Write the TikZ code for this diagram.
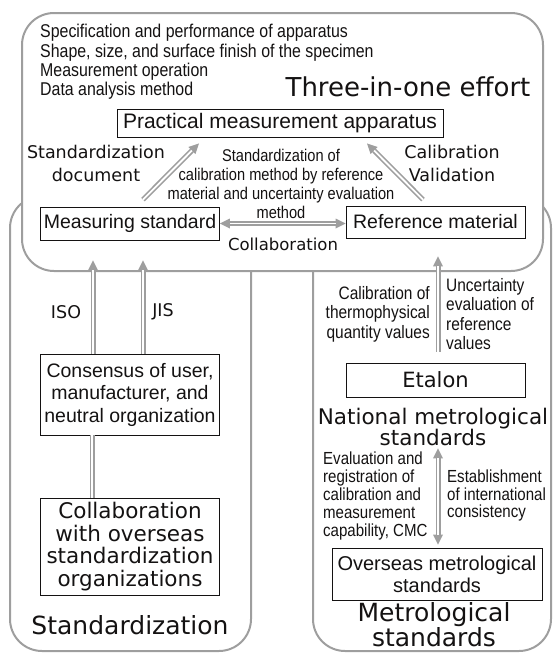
\documentclass[tikz,border=0pt]{standalone}
\usepackage{fontspec}
\setmainfont{Liberation Sans}
\newfontfamily\narrowfont[FakeStretch=0.86]{Liberation Sans}
\newfontfamily\widefont{DejaVu Sans}
\usetikzlibrary{arrows.meta,calc}
\definecolor{lg}{RGB}{158,158,158}
\definecolor{ink}{RGB}{20,18,18}
\tikzset{
  gtip/.tip={Triangle[width=10pt,length=10pt,line width=0pt]},
  frame/.style={draw=lg, line width=2pt, rounded corners=32pt},
  box/.style={draw=ink, line width=0.9pt, inner sep=0pt, text=ink, align=center,
    font=\fontsize{19.5}{23}\selectfont},
  note/.style={inner sep=0pt, text=ink, font=\narrowfont\fontsize{18}{19.5}\selectfont},
  lbl/.style={inner sep=0pt, text=ink, align=center, font=\widefont\fontsize{17.5}{23}\selectfont},
  big/.style={inner sep=0pt, text=ink, align=center, font=\widefont\fontsize{25}{24}\selectfont},
  dblA/.style={draw=lg, line width=5pt, -{gtip},
    postaction={draw=white, line width=1.8pt, -, shorten >=10pt}},
  dblB/.style={draw=lg, line width=5pt, {gtip}-{gtip},
    postaction={draw=white, line width=1.8pt, -, shorten >=10pt, shorten <=10pt}},
  dblL/.style={draw=lg, line width=5pt,
    postaction={draw=white, line width=1.8pt}},
}
\begin{document}
\begin{tikzpicture}[x=1pt,y=-1pt]
\useasboundingbox (0,0) rectangle (553,654);
% frames
\draw[frame] (10,196) rectangle (251,651);
\draw[frame] (313,196) rectangle (551,651);
\draw[frame, fill=white] (22,13) rectangle (543,271);

% boxes
\node[box, minimum width=326pt, minimum height=28pt, font=\fontsize{21}{24}\selectfont] (pma) at (280,123) {Practical measurement apparatus};
\node[box, minimum width=179pt, minimum height=33pt] (ms) at (130,223.5) {Measuring standard};
\node[box, minimum width=179pt, minimum height=32pt] (rm) at (435.5,222) {Reference material};
\node[box, minimum width=179pt, minimum height=81pt, font=\fontsize{19.5}{22.5}\selectfont] (cons) at (130,394.5) {Consensus of user,\\manufacturer, and\\neutral organization};
\node[box, minimum width=179pt, minimum height=97pt, font=\widefont\fontsize{21.5}{22.7}\selectfont] (collab) at (130,546.5) {Collaboration\\with overseas\\standardization\\organizations};
\node[box, minimum width=179pt, minimum height=34pt, font=\widefont\fontsize{21}{24}\selectfont] (et) at (435.5,380) {Etalon};
\node[box, minimum width=210pt, minimum height=52pt, font=\fontsize{20}{22}\selectfont] (ov) at (437,574) {Overseas metrological\\standards};

% texts
\node[note, align=left, anchor=west, font=\narrowfont\fontsize{18.5}{19.4}\selectfont] (list) at (40,62) {Specification and performance of apparatus\\Shape, size, and surface finish of the specimen\\Measurement operation\\Data analysis method};
\node[big, font=\widefont\fontsize{26}{30}\selectfont] (three) at (408,87) {Three-in-one effort};
\node[lbl] (sd) at (96,163.5) {Standardization\\document};
\node[lbl] (cv) at (452,163) {Calibration\\Validation};
\node[note, align=center, font=\narrowfont\fontsize{17}{19}\selectfont] (ctr) at (281,183.5) {Standardization of\\calibration method by reference\\material and uncertainty evaluation\\method};
\node[lbl, font=\widefont\fontsize{16.5}{20}\selectfont] (colab) at (283,244) {Collaboration};
\node[lbl] (iso) at (66,312) {ISO};
\node[lbl] (jis) at (163,312) {JIS};
\node[note, align=right, anchor=east] (calq) at (430,314) {Calibration of\\thermophysical\\quantity values};
\node[note, align=left, anchor=west] (unc) at (446,314) {Uncertainty\\evaluation of\\reference\\values};
\node[big, font=\widefont\fontsize{21.5}{20.5}\selectfont] (nat) at (433,427) {National metrological\\standards};
\node[note, align=left, anchor=west, font=\narrowfont\fontsize{17.5}{18}\selectfont] (evl) at (323,496) {Evaluation and\\registration of\\calibration and\\measurement\\capability, CMC};
\node[note, align=left, anchor=west, font=\narrowfont\fontsize{17.5}{17.5}\selectfont] (est) at (447,495.5) {Establishment\\of international\\consistency};
\node[big] (metro) at (434,625) {Metrological\\standards};
\node[big] (stdz) at (130,625) {Standardization};

% connectors
\draw[dblA] ([xshift=13pt,yshift=7pt]ms.north) -- ([xshift=-81pt,yshift=-6pt]pma.south);
\draw[dblA] ([xshift=-12.5pt,yshift=6pt]rm.north) -- ([xshift=87pt,yshift=-6pt]pma.south);
\draw[dblB] (ms.east) -- (ms.east -| rm.west);
\draw[dblA] ([xshift=-37pt]cons.north) -- ([xshift=-37pt,yshift=-20pt]ms.south);
\draw[dblA] ([xshift=13pt]cons.north) -- ([xshift=13pt,yshift=-20pt]ms.south);
\draw[dblL] ([xshift=-38pt]cons.south) -- ([xshift=-38pt]collab.north);
\draw[dblA] ([xshift=2.5pt,yshift=11pt]et.north) -- ([xshift=2.5pt,yshift=-18pt]rm.south);
\draw[dblB] ([xshift=5pt,yshift=-2pt]nat.south) -- ([xshift=1pt,yshift=3pt]ov.north);
\end{tikzpicture}
\end{document}
